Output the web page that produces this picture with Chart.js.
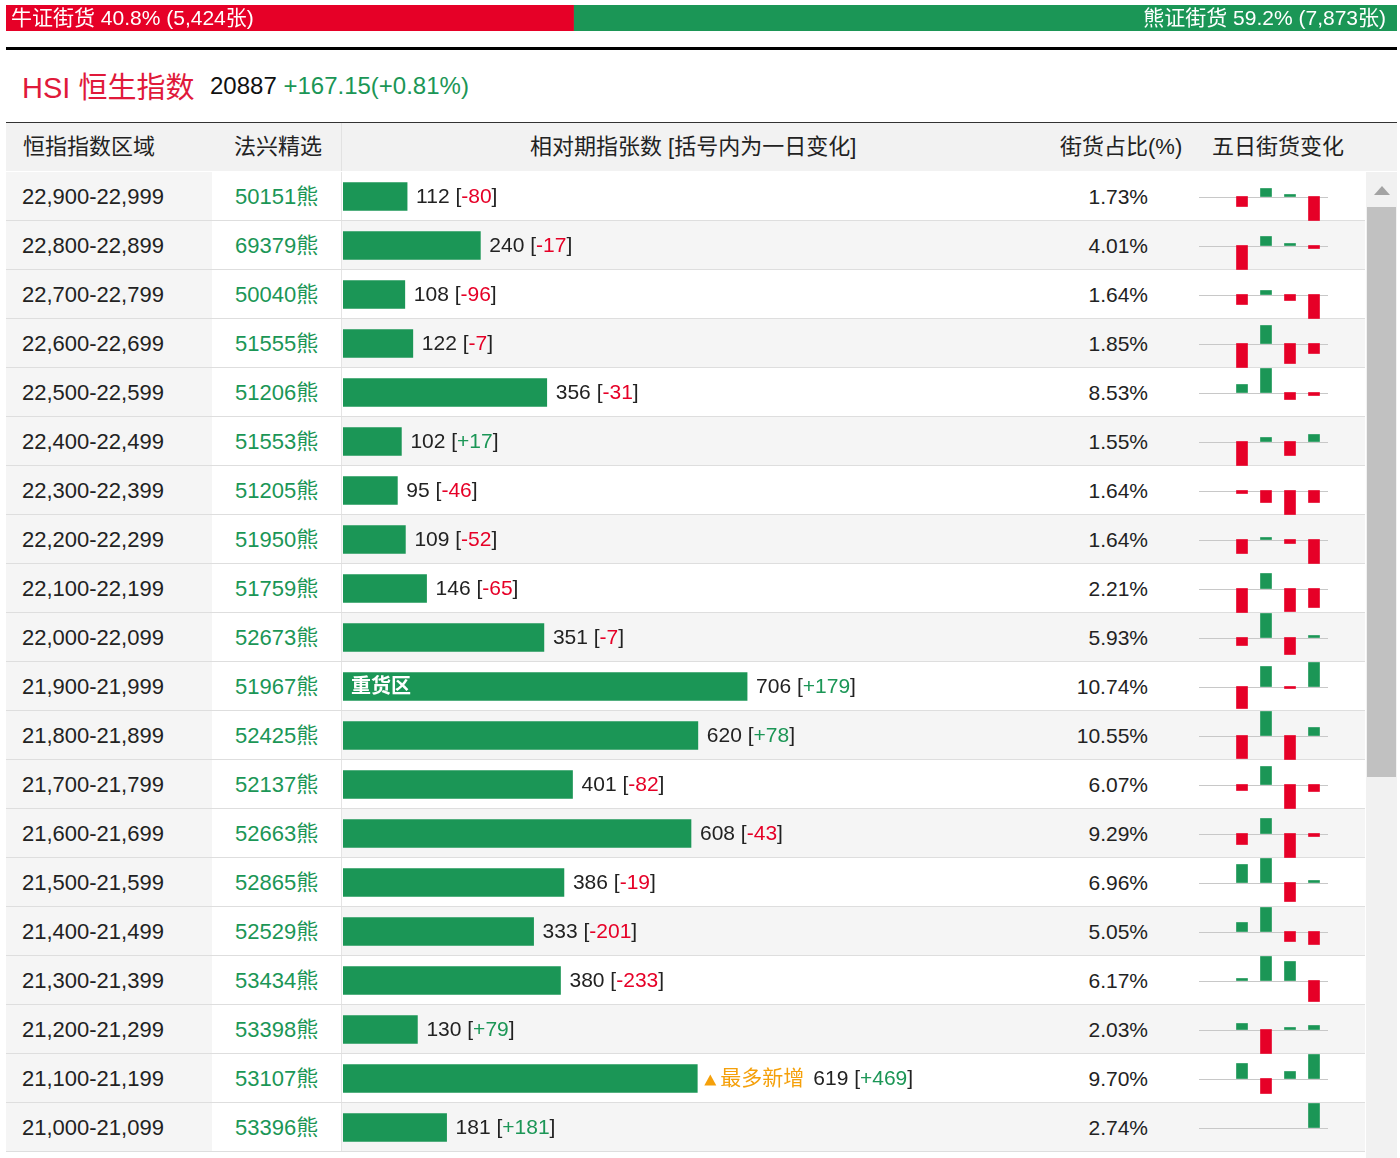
<!DOCTYPE html>
<html>
<head>
<meta charset="utf-8">
<script src="https://cdn.jsdelivr.net/npm/chart.js@4.4.1/dist/chart.umd.min.js"></script>
<style>
  body { margin: 0; width: 1400px; height: 1158px; overflow: hidden; position: relative; background: #fff;
         font-family: "Liberation Sans", Arial, "Noto Sans CJK SC", sans-serif; color: #222; }
  .abs { position: absolute; }
  .cell { position: absolute; height: 49px; line-height: 49px; font-size: 22px; white-space: nowrap; }
  canvas { position: absolute; }
</style>
</head>
<body>
<canvas id="topBar" width="1391" height="26" style="left:6px;top:5px;width:1391px;height:26px"></canvas>
<div class="abs" style="left:6px;top:47px;width:1391px;height:3px;background:#000"></div>
<div class="abs" style="left:22px;top:64px;font-size:29px;color:#e0193a">HSI 恒生指数</div>
<div class="abs" style="left:210px;top:72px;font-size:24px"><span style="color:#111">20887</span> <span style="color:#1b9656">+167.15(+0.81%)</span></div>
<div class="abs" style="left:6px;top:122px;width:1391px;height:1px;background:#333"></div>
<div class="abs" style="left:6px;top:123px;width:1391px;height:48px;background:#f2f2f2"></div>
<div class="abs" style="left:341px;top:123px;width:1px;height:48px;background:#e2e2e2"></div>
<div id="rows"></div>
<canvas id="barChart" width="700" height="980" style="left:343px;top:172px;width:700px;height:980px"></canvas>
<div id="minis"></div>
<div class="abs" style="left:1366px;top:172px;width:31px;height:986px;background:#f1f1f1"></div>
<div class="abs" style="left:1374px;top:186px;width:0;height:0;border-left:8px solid transparent;border-right:8px solid transparent;border-bottom:9px solid #a3a3a3"></div>
<div class="abs" style="left:1367px;top:207px;width:29px;height:570px;background:#c1c1c1"></div>

<script>
/* ---------------- DATA ---------------- */
const bullPct = 40.8, bearPct = 59.2;
const bullCount = "5,424", bearCount = "7,873";

const headers = ["恒指指数区域", "法兴精选", "相对期指张数 [括号内为一日变化]", "街货占比(%)", "五日街货变化"];

const ranges = ["22,900-22,999", "22,800-22,899", "22,700-22,799", "22,600-22,699", "22,500-22,599",
  "22,400-22,499", "22,300-22,399", "22,200-22,299", "22,100-22,199", "22,000-22,099",
  "21,900-21,999", "21,800-21,899", "21,700-21,799", "21,600-21,699", "21,500-21,599",
  "21,400-21,499", "21,300-21,399", "21,200-21,299", "21,100-21,199", "21,000-21,099"];
const codes = ["50151", "69379", "50040", "51555", "51206", "51553", "51205", "51950", "51759", "52673",
  "51967", "52425", "52137", "52663", "52865", "52529", "53434", "53398", "53107", "53396"];
const contracts = [112, 240, 108, 122, 356, 102, 95, 109, 146, 351, 706, 620, 401, 608, 386, 333, 380, 130, 619, 181];
const dayChange = [-80, -17, -96, -7, -31, 17, -46, -52, -65, -7, 179, 78, -82, -43, -19, -201, -233, 79, 469, 181];
const sharePct = ["1.73", "4.01", "1.64", "1.85", "8.53", "1.55", "1.64", "1.64", "2.21", "5.93",
  "10.74", "10.55", "6.07", "9.29", "6.96", "5.05", "6.17", "2.03", "9.70", "2.74"];

const fiveDayLabels = ["D1", "D2", "D3", "D4", "D5"];
const fiveDay = [
  [null, -10, 8, 2, -24], [null, -24, 9, 2, -3], [null, -10, 4, -6, -24], [null, -24, 18, -20, -10],
  [null, 8, 24, -7, -3], [null, -24, 4, -14, 7], [null, -3, -12, -24, -12], [null, -14, 2, -4, -24],
  [null, -24, 15, -23, -19], [null, -8, 24, -17, 2], [null, -22, 20, -2, 24], [null, -23, 24, -24, 8],
  [null, -6, 18, -24, -7], [null, -11, 15, -24, -3], [null, 18, 24, -19, 2], [null, 9, 24, -10, -13],
  [null, 2, 24, 19, -21], [null, 6, -24, 2, 4], [null, 15, -15, 7, 24], [null, null, null, null, 24]
];

const GREEN = "#1b9656", RED = "#e60027", ORANGE = "#f5a00a";
const FONT = '"Liberation Sans", Arial, "Noto Sans CJK SC", sans-serif';
const ROW_H = 49, TOP = 172;

/* ---------------- HEADER + TABLE CELLS ---------------- */
let html = "";
const hx = [23, 234, 530, 1060, 1212];
headers.forEach((h, i) => {
  html += `<div class="cell" style="left:${hx[i]}px;top:123px;height:48px;line-height:48px">${h}</div>`;
});
ranges.forEach((r, i) => {
  const y = TOP + i * ROW_H;
  const bg = i % 2 === 0 ? "#fff" : "#f5f5f5";
  html += `<div class="abs" style="left:342px;top:${y}px;width:1023px;height:48px;background:${bg}"></div>`;
  html += `<div class="abs" style="left:6px;top:${y}px;width:206px;height:48px;background:#f5f5f5"></div>`;
  html += `<div class="abs" style="left:6px;top:${y + 48}px;width:1359px;height:1px;background:#dedede"></div>`;
  html += `<div class="abs" style="left:341px;top:${y}px;width:1px;height:48px;background:#e4e4e4"></div>`;
  html += `<div class="cell" style="left:22px;top:${y}px">${r}</div>`;
  html += `<div class="cell" style="left:235px;top:${y}px;color:${GREEN}">${codes[i]}熊</div>`;
  html += `<div class="cell" style="left:1000px;top:${y}px;width:148px;text-align:right;font-size:21px">${sharePct[i]}%</div>`;
});
document.getElementById("rows").innerHTML = html;

/* ---------------- TOP BULL / BEAR BAR ---------------- */
new Chart(document.getElementById("topBar"), {
  type: "bar",
  data: {
    labels: [""],
    datasets: [
      { data: [bullPct], backgroundColor: RED, barPercentage: 1, categoryPercentage: 1 },
      { data: [bearPct], backgroundColor: GREEN, barPercentage: 1, categoryPercentage: 1 }
    ]
  },
  options: {
    indexAxis: "y", responsive: false, animation: false,
    plugins: { legend: { display: false }, tooltip: { enabled: false } },
    scales: { x: { stacked: true, display: false, min: 0, max: 100 }, y: { stacked: true, display: false } }
  },
  plugins: [{
    id: "topText",
    afterDatasetsDraw(chart) {
      const ctx = chart.ctx, area = chart.chartArea;
      const cy = (area.top + area.bottom) / 2 + 1;
      ctx.save();
      ctx.font = "21px " + FONT;
      ctx.fillStyle = "#fff";
      ctx.textBaseline = "middle";
      ctx.textAlign = "left";
      ctx.fillText(`牛证街货 ${bullPct}% (${bullCount}张)`, area.left + 5, cy);
      ctx.textAlign = "right";
      ctx.fillText(`熊证街货 ${bearPct}% (${bearCount}张)`, area.right - 11, cy);
      ctx.restore();
    }
  }]
});

/* ---------------- MAIN CONTRACTS BAR ---------------- */
const heavyIdx = contracts.indexOf(Math.max(...contracts));
const newIdx = dayChange.indexOf(Math.max(...dayChange));

new Chart(document.getElementById("barChart"), {
  type: "bar",
  data: {
    labels: ranges,
    datasets: [{ data: contracts, backgroundColor: GREEN, barThickness: 28 }]
  },
  options: {
    indexAxis: "y", responsive: false, animation: false,
    layout: { padding: 0 },
    plugins: { legend: { display: false }, tooltip: { enabled: false } },
    scales: { x: { display: false, min: 0, max: 1223 }, y: { display: false } }
  },
  plugins: [{
    id: "valueText",
    afterDatasetsDraw(chart) {
      const ctx = chart.ctx;
      const bars = chart.getDatasetMeta(0).data;
      ctx.save();
      ctx.textBaseline = "middle";
      ctx.textAlign = "left";
      bars.forEach((bar, i) => {
        const y = bar.y + 1;
        let x = bar.x + 9;
        if (i === heavyIdx) {
          ctx.font = "bold 20px " + FONT;
          ctx.fillStyle = "#fff";
          ctx.fillText("重货区", chart.chartArea.left + 8, y);
        }
        ctx.font = "21px " + FONT;
        if (i === newIdx) {
          x -= 2;
          ctx.fillStyle = ORANGE;
          ctx.beginPath();
          ctx.moveTo(x, y + 6); ctx.lineTo(x + 12, y + 6); ctx.lineTo(x + 6, y - 5);
          ctx.closePath(); ctx.fill();
          x += 16;
          ctx.fillText("最多新增", x, y);
          x += ctx.measureText("最多新增").width + 9;
        }
        const ch = dayChange[i];
        const parts = [
          [contracts[i] + " [", "#222"],
          [(ch > 0 ? "+" : "") + ch, ch >= 0 ? GREEN : RED],
          ["]", "#222"]
        ];
        parts.forEach(([t, c]) => {
          ctx.fillStyle = c;
          ctx.fillText(t, x, y);
          x += ctx.measureText(t).width;
        });
      });
      ctx.restore();
    }
  }]
});

/* ---------------- FIVE-DAY MINI CHARTS ---------------- */
const minis = document.getElementById("minis");
fiveDay.forEach((vals, i) => {
  const cv = document.createElement("canvas");
  cv.width = 129; cv.height = 49;
  cv.style.cssText = `left:1199px;top:${TOP + i * ROW_H}px;width:129px;height:49px`;
  minis.appendChild(cv);
  new Chart(cv, {
    type: "bar",
    data: {
      labels: fiveDayLabels,
      datasets: [{
        data: vals,
        backgroundColor: vals.map(v => (v >= 0 ? GREEN : RED)),
        barThickness: 11
      }]
    },
    options: {
      responsive: false, animation: false,
      layout: { padding: { left: 7, right: 2, top: 0, bottom: 0 } },
      plugins: { legend: { display: false }, tooltip: { enabled: false } },
      scales: { x: { display: false }, y: { display: false, min: -24.5, max: 24.5 } }
    },
    plugins: [{
      id: "baseline",
      beforeDatasetsDraw(chart) {
        const ctx = chart.ctx;
        const y0 = Math.round(chart.scales.y.getPixelForValue(0)) + 0.5;
        ctx.save();
        ctx.strokeStyle = "#c8c8c8";
        ctx.lineWidth = 1;
        ctx.beginPath();
        ctx.moveTo(0, y0); ctx.lineTo(chart.width, y0);
        ctx.stroke();
        ctx.restore();
      }
    }]
  });
});
</script>
</body>
</html>
